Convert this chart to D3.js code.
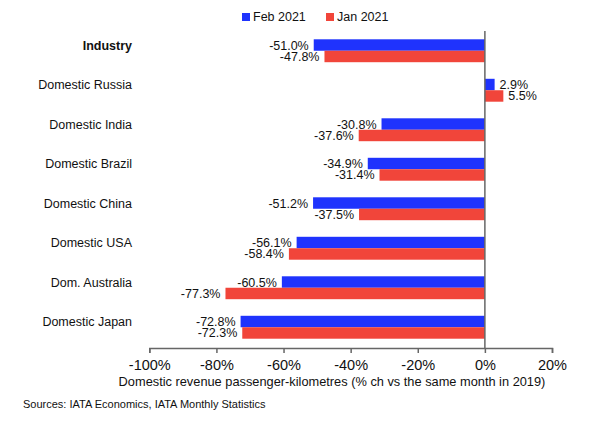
<!DOCTYPE html>
<html>
<head>
<meta charset="utf-8">
<script src="https://cdn.jsdelivr.net/npm/d3@7"></script>
<style>
  body { margin: 0; background: #fff; }
  svg text { font-family: "Liberation Sans", Arial, sans-serif; fill: #111; }
</style>
</head>
<body>
<div id="chart"></div>
<script>
// --------------- Data ---------------
const categories = [
  "Industry",
  "Domestic Russia",
  "Domestic India",
  "Domestic Brazil",
  "Domestic China",
  "Domestic USA",
  "Dom. Australia",
  "Domestic Japan",
];
const seriesNames = ["Feb 2021", "Jan 2021"];
const feb2021 = [-51.0, 2.9, -30.8, -34.9, -51.2, -56.1, -60.5, -72.8];
const jan2021 = [-47.8, 5.5, -37.6, -31.4, -37.5, -58.4, -77.3, -72.3];
const xTicks = [-100, -80, -60, -40, -20, 0, 20];

const COLORS = { "Feb 2021": "#1f33fd", "Jan 2021": "#f1453a" };
const WIDTH = 603;
const HEIGHT = 434;

const rows = categories.map((c, i) => ({
  name: c,
  values: [
    { series: "Feb 2021", value: feb2021[i] },
    { series: "Jan 2021", value: jan2021[i] },
  ],
}));

// --------------- Scales ---------------
const x = d3.scaleLinear().domain([-100, 20]).range([149.3, 552]);
const y = d3
  .scaleBand()
  .domain(categories)
  .range([31, 347])
  .paddingInner(0.42)
  .paddingOuter(0.21);
const ySub = d3.scaleBand().domain(seriesNames).range([0, y.bandwidth()]);

const svg = d3
  .select("#chart")
  .append("svg")
  .attr("width", WIDTH)
  .attr("height", HEIGHT);

// --------------- Legend ---------------
const legend = svg
  .append("g")
  .selectAll("g")
  .data(seriesNames)
  .enter()
  .append("g")
  .attr("transform", (d, i) => `translate(${242 + i * 84},13)`);
legend
  .append("rect")
  .attr("width", 8)
  .attr("height", 8)
  .attr("fill", (d) => COLORS[d]);
legend
  .append("text")
  .attr("x", 11)
  .attr("y", 8)
  .style("font-size", "12.5px")
  .text((d) => d);

// --------------- Bars ---------------
const groups = svg
  .append("g")
  .selectAll("g")
  .data(rows)
  .enter()
  .append("g")
  .attr("transform", (d) => `translate(0,${y(d.name)})`);

groups
  .selectAll("rect")
  .data((d) => d.values)
  .enter()
  .append("rect")
  .attr("x", (d) => x(Math.min(0, d.value)))
  .attr("y", (d) => ySub(d.series))
  .attr("width", (d) => Math.abs(x(d.value) - x(0)))
  .attr("height", ySub.bandwidth())
  .attr("fill", (d) => COLORS[d.series]);

// value labels
groups
  .selectAll("text.value")
  .data((d) => d.values)
  .enter()
  .append("text")
  .attr("class", "value")
  .attr("x", (d) => (d.value < 0 ? x(d.value) - 5 : x(d.value) + 5))
  .attr("y", (d) => ySub(d.series) + ySub.bandwidth() / 2)
  .attr("dy", "0.36em")
  .attr("text-anchor", (d) => (d.value < 0 ? "end" : "start"))
  .style("font-size", "12.5px")
  .text((d) => `${d.value.toFixed(1)}%`);

// category labels
groups
  .append("text")
  .attr("x", 132)
  .attr("y", y.bandwidth() / 2 - 1)
  .attr("text-anchor", "end")
  .style("font-size", "12.5px")
  .style("font-weight", (d) => (d.name === "Industry" ? "bold" : "normal"))
  .text((d) => d.name);

// --------------- Zero line ---------------
svg
  .append("line")
  .attr("x1", x(0))
  .attr("x2", x(0))
  .attr("y1", 31)
  .attr("y2", 348)
  .attr("stroke", "#666")
  .attr("stroke-width", 1.5);

// --------------- X axis ---------------
const xAxis = svg
  .append("g")
  .attr("transform", "translate(0,348)")
  .call(
    d3
      .axisBottom(x)
      .tickValues(xTicks)
      .tickSize(5)
      .tickFormat((d) => `${d}%`)
  );
xAxis.select(".domain").attr("stroke", "#666").attr("stroke-width", 1.5);
xAxis.selectAll(".tick line").attr("stroke", "#666").attr("stroke-width", 1.5);
xAxis
  .selectAll(".tick text")
  .attr("y", 12)
  .style("font-size", "14.5px")
  .style("font-family", '"Liberation Sans", Arial, sans-serif')
  .attr("fill", "#111");

svg
  .append("text")
  .attr("x", 332)
  .attr("y", 386)
  .attr("text-anchor", "middle")
  .style("font-size", "12.8px")
  .text("Domestic revenue passenger-kilometres (% ch vs the same month in 2019)");

svg
  .append("text")
  .attr("x", 23)
  .attr("y", 408)
  .style("font-size", "11px")
  .text("Sources: IATA Economics, IATA Monthly Statistics");
</script>
</body>
</html>
